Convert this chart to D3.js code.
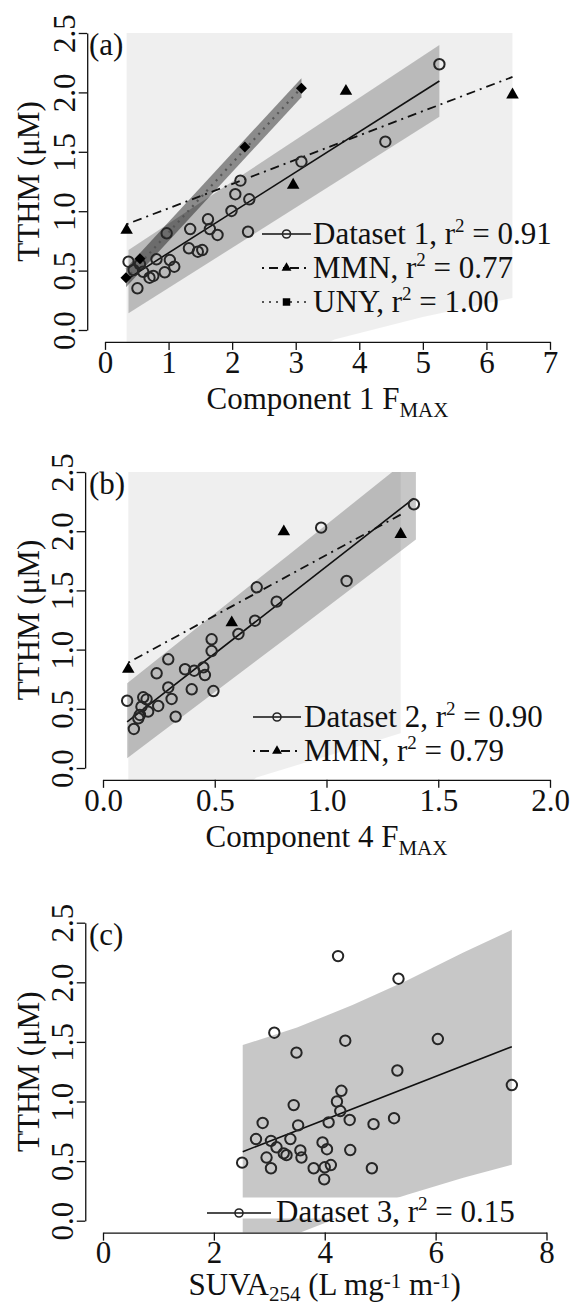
<!DOCTYPE html>
<html>
<head>
<meta charset="utf-8">
<script src="https://cdn.jsdelivr.net/npm/d3@7"></script>
<style>
  body { margin: 0; background: #fff; }
  svg { display: block; }
  text { font-family: "Liberation Serif", "Times New Roman", serif; fill: #111; }
</style>
</head>
<body>
<div id="chart"></div>
<script>
// ticks
const yTicks = [0, 0.5, 1, 1.5, 2, 2.5];
const xTicksA = [0, 1, 2, 3, 4, 5, 6, 7];
const xTicksB = [0, 0.5, 1, 1.5, 2];
const xTicksC = [0, 2, 4, 6, 8];

// panel (a): Dataset 1, MMN, UNY vs Component 1 Fmax
const d1X = [0.37, 0.55, 0.45, 0.51, 0.60, 0.70, 0.76, 0.81, 0.94, 1.02, 1.09, 0.97, 1.32, 1.34, 1.46, 1.53, 1.62, 1.65, 1.77, 1.99, 2.05, 2.13, 2.27, 2.25, 3.09, 4.41, 5.26];
const d1Y = [0.575, 0.553, 0.505, 0.351, 0.49, 0.44, 0.455, 0.595, 0.486, 0.589, 0.533, 0.814, 0.688, 0.85, 0.659, 0.673, 0.932, 0.85, 0.80, 1.002, 1.143, 1.257, 1.10, 0.827, 1.417, 1.585, 2.237];
const mmnAX = [0.34, 2.96, 3.79, 6.41];
const mmnAY = [0.84, 1.22, 2.01, 1.98];
const unyX = [0.33, 0.55, 2.20, 3.09];
const unyY = [0.44, 0.60, 1.54, 2.035];
const d1FitX = [0.37, 5.26], d1FitY = [0.435, 2.096];
const mmnAFitX = [0.34, 6.41], mmnAFitY = [0.89, 2.13];
const unyFitX = [0.33, 3.09], unyFitY = [0.43, 2.04];
const mmnABandX = [0.34, 2.0, 3.61, 5.0, 6.41];
const mmnABandLo = [-1.2, -0.5, -0.08, 0.11, 0.27];
const mmnABandHi = [2.5, 2.5, 2.5, 2.5, 2.5];
const d1BandX = [0.37, 5.26], d1BandLo = [0.14, 1.795], d1BandHi = [0.673, 2.40];
const unyBandX = [0.33, 3.09], unyBandLo = [0.36, 1.96], unyBandHi = [0.52, 2.12];

// panel (b): Dataset 2, MMN vs Component 4 Fmax
const d2X = [0.688, 0.777, 0.680, 0.606, 0.486, 0.486, 0.292, 0.240, 0.367, 0.408, 0.449, 0.456, 0.292, 0.397, 0.494, 0.108, 0.180, 0.195, 0.307, 0.247, 0.172, 0.202, 0.165, 0.325, 0.138, 0.158, 0.976, 1.391, 1.09];
const d2Y = [1.526, 1.405, 1.244, 1.132, 1.087, 0.988, 0.918, 0.80, 0.834, 0.822, 0.85, 0.785, 0.68, 0.665, 0.65, 0.568, 0.597, 0.58, 0.583, 0.524, 0.518, 0.476, 0.448, 0.434, 0.33, 0.42, 2.03, 2.227, 1.58];
const mmnBX = [0.113, 0.576, 0.809, 1.332];
const mmnBY = [0.834, 1.227, 1.996, 1.974];
const d2FitX = [0.108, 1.391], d2FitY = [0.39, 2.278];
const mmnBFitX = [0.113, 1.332], mmnBFitY = [0.89, 2.14];
const mmnBBandX = [0.113, 0.687, 1.0, 1.332];
const mmnBBandLo = [-0.9, -0.08, 0.10, 0.293];
const mmnBBandHi = [2.5, 2.5, 2.5, 2.5];
const d2BandX = [0.108, 0.83, 1.40], d2BandLo = [0.082, 1.11, 1.93], d2BandHi = [0.715, 1.80, 2.66];

// panel (c): Dataset 3 vs SUVA254
const d3X = [4.24, 5.33, 3.09, 3.49, 4.37, 6.04, 5.31, 7.375, 4.30, 4.22, 4.28, 3.44, 2.88, 3.52, 4.07, 4.45, 4.88, 5.25, 2.76, 3.03, 3.13, 3.38, 3.26, 3.31, 3.56, 3.58, 3.96, 4.04, 4.46, 2.51, 2.95, 3.03, 3.80, 4.00, 4.11, 4.85, 3.99];
const d3Y = [2.22, 2.03, 1.577, 1.41, 1.51, 1.524, 1.26, 1.138, 1.09, 1.00, 0.92, 0.97, 0.82, 0.80, 0.825, 0.845, 0.81, 0.86, 0.685, 0.67, 0.616, 0.685, 0.565, 0.55, 0.59, 0.53, 0.657, 0.60, 0.593, 0.487, 0.53, 0.44, 0.44, 0.448, 0.467, 0.44, 0.347];
const d3FitX = [2.52, 7.375], d3FitY = [0.579, 1.46];
const d3BandX = [2.52, 3.5, 4.5, 5.5, 6.5, 7.375];
const d3BandLo = [-0.32, -0.11, 0.07, 0.22, 0.36, 0.47];
const d3BandHi = [1.474, 1.62, 1.81, 2.02, 2.25, 2.44];

// legend texts
const legendA = ["Dataset 1", "MMN", "UNY"], r2A = ["0.91", "0.77", "1.00"];
const legendB = ["Dataset 2", "MMN"], r2B = ["0.90", "0.79"];
const legendC = ["Dataset 3"], r2C = ["0.15"];

const W = 574, H = 1310, FS = 31;
const svg = d3.select("#chart").append("svg").attr("width", W).attr("height", H);

const zip = (xs, a, b) => xs.map((v, i) => ({x: v, lo: a[i], hi: b[i]}));
const pts = (xs, ys) => xs.map((v, i) => ({x: v, y: ys[i]}));

const styles = {
  solid: {stroke: "#111", width: 1.6, dash: null},
  dotdash: {stroke: "#111", width: 1.8, dash: "2,5,9,5"},
  dotted: {stroke: "#555", width: 2.2, dash: "2,5"}
};

function drawSymbol(g, kind, cx, cy, small) {
  if (kind == "circle") {
    g.append("circle").attr("cx", cx).attr("cy", cy).attr("r", small ? 4 : 5.2)
      .attr("fill", "none").attr("stroke", "#262626").attr("stroke-width", small ? 1.6 : 2);
  } else if (kind == "tri") {
    g.append("path").attr("d", d3.symbol(d3.symbolTriangle, small ? 42 : 68)())
      .attr("transform", `translate(${cx},${cy})`).attr("fill", "#000");
  } else {
    g.append("path").attr("d", d3.symbol(d3.symbolSquare, small ? 56 : 60)())
      .attr("transform", `translate(${cx},${cy})` + (small ? "" : " rotate(45)")).attr("fill", "#000");
  }
}

function r2Text(g, tx, ty, label, r2) {
  const t = g.append("text").attr("x", tx).attr("y", ty).style("font-size", FS + "px");
  t.append("tspan").text(label + ", r");
  t.append("tspan").attr("dy", -12).style("font-size", "19px").text("2");
  t.append("tspan").attr("dy", 12).text(" = " + r2);
}

function panel(cfg) {
  const g = svg.append("g");
  const x = d3.scaleLinear().domain([0, cfg.xMax]).range(cfg.xr);
  const y = d3.scaleLinear().domain([0, 2.5]).range(cfg.yr);
  const pad = cfg.xMax * 0.04;
  const left = x(-pad), right = x(cfg.xMax + pad), bottom = y(-0.1), top = y(2.6);

  const clipId = "clip" + cfg.id;
  svg.append("clipPath").attr("id", clipId).append("rect")
    .attr("x", left).attr("y", y(2.5)).attr("width", right - left).attr("height", bottom - y(2.5));

  const area = d3.area().x(d => x(d.x)).y0(d => y(d.lo)).y1(d => y(d.hi));
  const bandG = g.append("g").attr("clip-path", `url(#${clipId})`);
  cfg.bands.forEach(b => {
    bandG.append("path").attr("d", area(b.data)).attr("fill", b.fill).attr("fill-opacity", b.op);
  });

  const line = d3.line().x(d => x(d.x)).y(d => y(d.y));
  cfg.fits.forEach(f => {
    const s = styles[f.style];
    g.append("path").attr("d", line(f.data)).attr("fill", "none")
      .attr("stroke", s.stroke).attr("stroke-width", s.width).attr("stroke-dasharray", s.dash);
  });

  cfg.series.forEach(s => {
    s.data.forEach(d => drawSymbol(g, s.sym, x(d.x), y(d.y), false));
  });

  // legend
  const lg = g.append("g");
  const L = cfg.legend;
  if (L.box) {
    lg.append("rect").attr("x", L.box[0]).attr("y", L.box[1]).attr("width", L.box[2]).attr("height", L.box[3]).attr("fill", "#fff");
  }
  L.rows.forEach((r, i) => {
    const ly = L.y0 + i * L.dy;
    const s = styles[r.style];
    lg.append("line").attr("x1", L.x1).attr("x2", L.x2).attr("y1", ly).attr("y2", ly)
      .attr("stroke", s.stroke).attr("stroke-width", s.width).attr("stroke-dasharray", s.dash);
    drawSymbol(lg, r.sym, (L.x1 + L.x2) / 2, ly, true);
    r2Text(lg, L.tx, ly + L.base, r.label, r.r2);
  });

  // axes
  const ay = g.append("g").attr("transform", `translate(${left},0)`)
    .call(d3.axisLeft(y).tickValues(yTicks).tickSize(8.5).tickSizeOuter(0).tickFormat(d3.format(".1f")));
  ay.attr("font-family", null).attr("font-size", null);
  ay.selectAll("path, line").attr("stroke", "#111").attr("stroke-width", 1.3);
  ay.selectAll("text").attr("x", 0).attr("dy", null)
    .attr("transform", "translate(-12,0) rotate(-90)").attr("text-anchor", "middle")
    .style("font-size", FS + "px").attr("fill", "#111");

  const ax = g.append("g").attr("transform", `translate(0,${bottom})`)
    .call(d3.axisBottom(x).tickValues(cfg.xTicks).tickSize(8).tickSizeOuter(0).tickFormat(d3.format(cfg.fmt)));
  ax.attr("font-family", null).attr("font-size", null);
  ax.selectAll("path, line").attr("stroke", "#111").attr("stroke-width", 1.3);
  ax.selectAll("text").attr("y", cfg.tickY).attr("dy", null).style("font-size", FS + "px").attr("fill", "#111");

  // titles
  g.append("text").attr("transform", `translate(38.5,${y(1.25)}) rotate(-90)`)
    .attr("text-anchor", "middle").style("font-size", FS + "px").text("TTHM (μM)");

  const xt = g.append("text").attr("x", x(cfg.xMax / 2)).attr("y", bottom + cfg.titleY)
    .attr("text-anchor", "middle").style("font-size", FS + "px");
  cfg.xTitle.forEach(p => {
    const t = xt.append("tspan").text(p.t);
    if (p.dy) t.attr("dy", p.dy);
    if (p.small) t.style("font-size", "21px");
  });

  g.append("text").attr("x", 89).attr("y", top + 34).style("font-size", FS + "px").text(cfg.tag);
}

panel({
  id: "a", tag: "(a)", xMax: 7, xr: [105, 550], yr: [330, 33], xTicks: xTicksA, fmt: "d",
  tickY: 31, titleY: 67,
  bands: [
    {data: zip(mmnABandX, mmnABandLo, mmnABandHi), fill: "#000", op: 0.063},
    {data: zip(d1BandX, d1BandLo, d1BandHi), fill: "#000", op: 0.22},
    {data: zip(unyBandX, unyBandLo, unyBandHi), fill: "#000", op: 0.42}
  ],
  fits: [
    {data: pts(d1FitX, d1FitY), style: "solid"},
    {data: pts(mmnAFitX, mmnAFitY), style: "dotdash"},
    {data: pts(unyFitX, unyFitY), style: "dotted"}
  ],
  series: [
    {data: pts(d1X, d1Y), sym: "circle"},
    {data: pts(mmnAX, mmnAY), sym: "tri"},
    {data: pts(unyX, unyY), sym: "sq"}
  ],
  legend: {
    x1: 262, x2: 311, tx: 313, y0: 234, dy: 34, base: 10,
    rows: [
      {label: legendA[0], r2: r2A[0], style: "solid", sym: "circle"},
      {label: legendA[1], r2: r2A[1], style: "dotdash", sym: "tri"},
      {label: legendA[2], r2: r2A[2], style: "dotted", sym: "sq"}
    ]
  },
  xTitle: [{t: "Component 1 F"}, {t: "MAX", dy: 8, small: true}]
});

panel({
  id: "b", tag: "(b)", xMax: 2, xr: [103, 550], yr: [768, 472], xTicks: xTicksB, fmt: ".1f",
  tickY: 31, titleY: 67,
  bands: [
    {data: zip(mmnBBandX, mmnBBandLo, mmnBBandHi), fill: "#000", op: 0.063},
    {data: zip(d2BandX, d2BandLo, d2BandHi), fill: "#000", op: 0.22}
  ],
  fits: [
    {data: pts(d2FitX, d2FitY), style: "solid"},
    {data: pts(mmnBFitX, mmnBFitY), style: "dotdash"}
  ],
  series: [
    {data: pts(d2X, d2Y), sym: "circle"},
    {data: pts(mmnBX, mmnBY), sym: "tri"}
  ],
  legend: {
    x1: 253, x2: 301, tx: 304, y0: 717, dy: 34, base: 10,
    rows: [
      {label: legendB[0], r2: r2B[0], style: "solid", sym: "circle"},
      {label: legendB[1], r2: r2B[1], style: "dotdash", sym: "tri"}
    ]
  },
  xTitle: [{t: "Component 4 F"}, {t: "MAX", dy: 8, small: true}]
});

panel({
  id: "c", tag: "(c)", xMax: 8, xr: [103, 546.5], yr: [1220.7, 922.7], xTicks: xTicksC, fmt: "d",
  tickY: 30, titleY: 62,
  bands: [
    {data: zip(d3BandX, d3BandLo, d3BandHi), fill: "#000", op: 0.22}
  ],
  fits: [
    {data: pts(d3FitX, d3FitY), style: "solid"}
  ],
  series: [
    {data: pts(d3X, d3Y), sym: "circle"}
  ],
  legend: {
    box: [200, 1197.5, 326, 21],
    x1: 207, x2: 271, tx: 276, y0: 1213, dy: 34, base: 9,
    rows: [
      {label: legendC[0], r2: r2C[0], style: "solid", sym: "circle"}
    ]
  },
  xTitle: [{t: "SUVA"}, {t: "254", dy: 6, small: true}, {t: " (L mg", dy: -6},
           {t: "-1", dy: -7, small: true}, {t: " m", dy: 7}, {t: "-1", dy: -7, small: true}, {t: ")", dy: 7}]
});
</script>
</body>
</html>
